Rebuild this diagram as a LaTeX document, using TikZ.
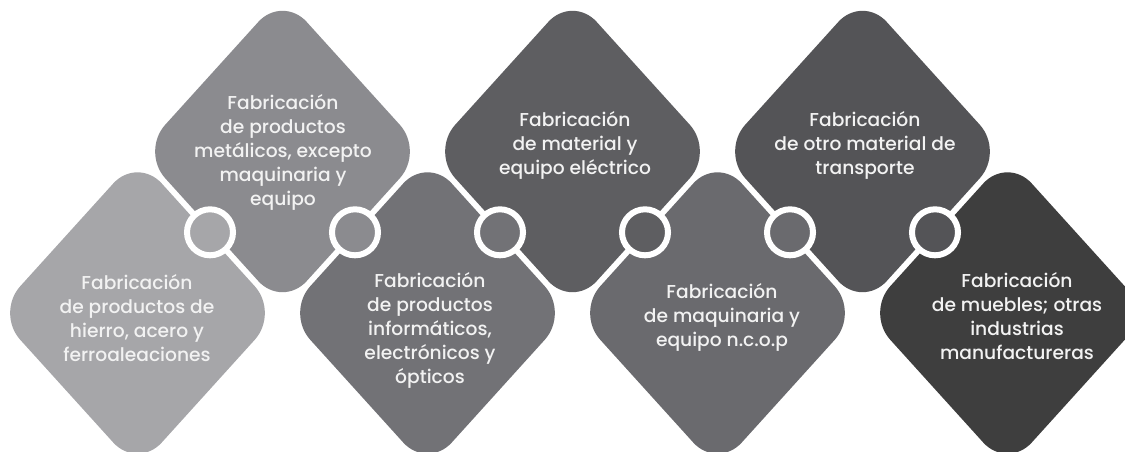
\documentclass[tikz,border=0pt]{standalone}
\usepackage{fontspec}
\setmainfont{Poppins}[UprightFont=* Medium]

\definecolor{tileA}{HTML}{A6A6A9}
\definecolor{tileB}{HTML}{8B8B8F}
\definecolor{tileC}{HTML}{727276}
\definecolor{tileD}{HTML}{5E5E61}
\definecolor{tileE}{HTML}{6A6A6E}
\definecolor{tileF}{HTML}{545457}
\definecolor{tileG}{HTML}{3E3E3E}
\definecolor{tiletext}{HTML}{F2F2F2}

\tikzset{every picture/.style={line width=0.75pt}}
\tikzset{
  tile/.style={rounded corners=27pt},
  tilelabel/.style={anchor=center, inner sep=0.75pt, align=center, text=tiletext, font=\fontsize{14pt}{18pt}\selectfont},
  linkring/.style={circle, draw=white, line width=4.5pt, inner sep=0pt, minimum size=34.5pt}
}

\begin{document}
\begin{tikzpicture}[x=0.75pt,y=0.75pt,yscale=-1,xscale=1]
\useasboundingbox (0,0) rectangle (1125,451);
\clip (0,0) rectangle (1125,451);

%Shape: Diamond [tile 1]
\fill [tile, fill=tileA] (-4,313) -- (137.5,156.7) -- (279,313) -- (137.5,469.3) -- cycle;
%Shape: Diamond [tile 2]
\fill [tile, fill=tileB] (141,151.5) -- (282.5,-4.8) -- (424,151.5) -- (282.5,307.8) -- cycle;
%Shape: Diamond [tile 3]
\fill [tile, fill=tileC] (286,313) -- (427.5,156.7) -- (569,313) -- (427.5,469.3) -- cycle;
%Shape: Diamond [tile 4]
\fill [tile, fill=tileD] (431,151.5) -- (572.5,-4.8) -- (714,151.5) -- (572.5,307.8) -- cycle;
%Shape: Diamond [tile 5]
\fill [tile, fill=tileE] (576,313) -- (717.5,156.7) -- (859,313) -- (717.5,469.3) -- cycle;
%Shape: Diamond [tile 6]
\fill [tile, fill=tileF] (721,151.5) -- (862.5,-4.8) -- (1004,151.5) -- (862.5,307.8) -- cycle;
%Shape: Diamond [tile 7]
\fill [tile, fill=tileG] (866,313) -- (1007.5,156.7) -- (1149,313) -- (1007.5,469.3) -- cycle;

%Shape: Circle [links]
\node (ring1) [linkring, fill=tileA] at (210,232.3) {};
\node (ring2) [linkring, fill=tileB] at (355,232.3) {};
\node (ring3) [linkring, fill=tileC] at (500,232.3) {};
\node (ring4) [linkring, fill=tileD] at (645,232.3) {};
\node (ring5) [linkring, fill=tileE] at (790,232.3) {};
\node (ring6) [linkring, fill=tileF] at (935,232.3) {};

% Text Node
\node (hierro) [tilelabel] at (137,318) {Fabricación\\de productos de\\hierro, acero y\\ferroaleaciones};
% Text Node
\node (metalicos) [tilelabel] at (283,152) {Fabricación\\de productos\\metálicos, excepto\\maquinaria y\\equipo};
% Text Node
\node (informaticos) [tilelabel] at (430,330) {Fabricación\\de productos\\informáticos,\\electrónicos y\\ópticos};
% Text Node
\node (electrico) [tilelabel] at (575,145) {Fabricación\\de material y\\equipo eléctrico};
% Text Node
\node (maquinaria) [tilelabel] at (722,317) {Fabricación\\de maquinaria y\\equipo n.c.o.p};
% Text Node
\node (transporte) [tilelabel] at (865,145) {Fabricación\\de otro material de\\transporte};
% Text Node
\node (muebles) [tilelabel] at (1017,316) {Fabricación\\de muebles; otras\\industrias\\manufactureras};

\end{tikzpicture}
\end{document}
